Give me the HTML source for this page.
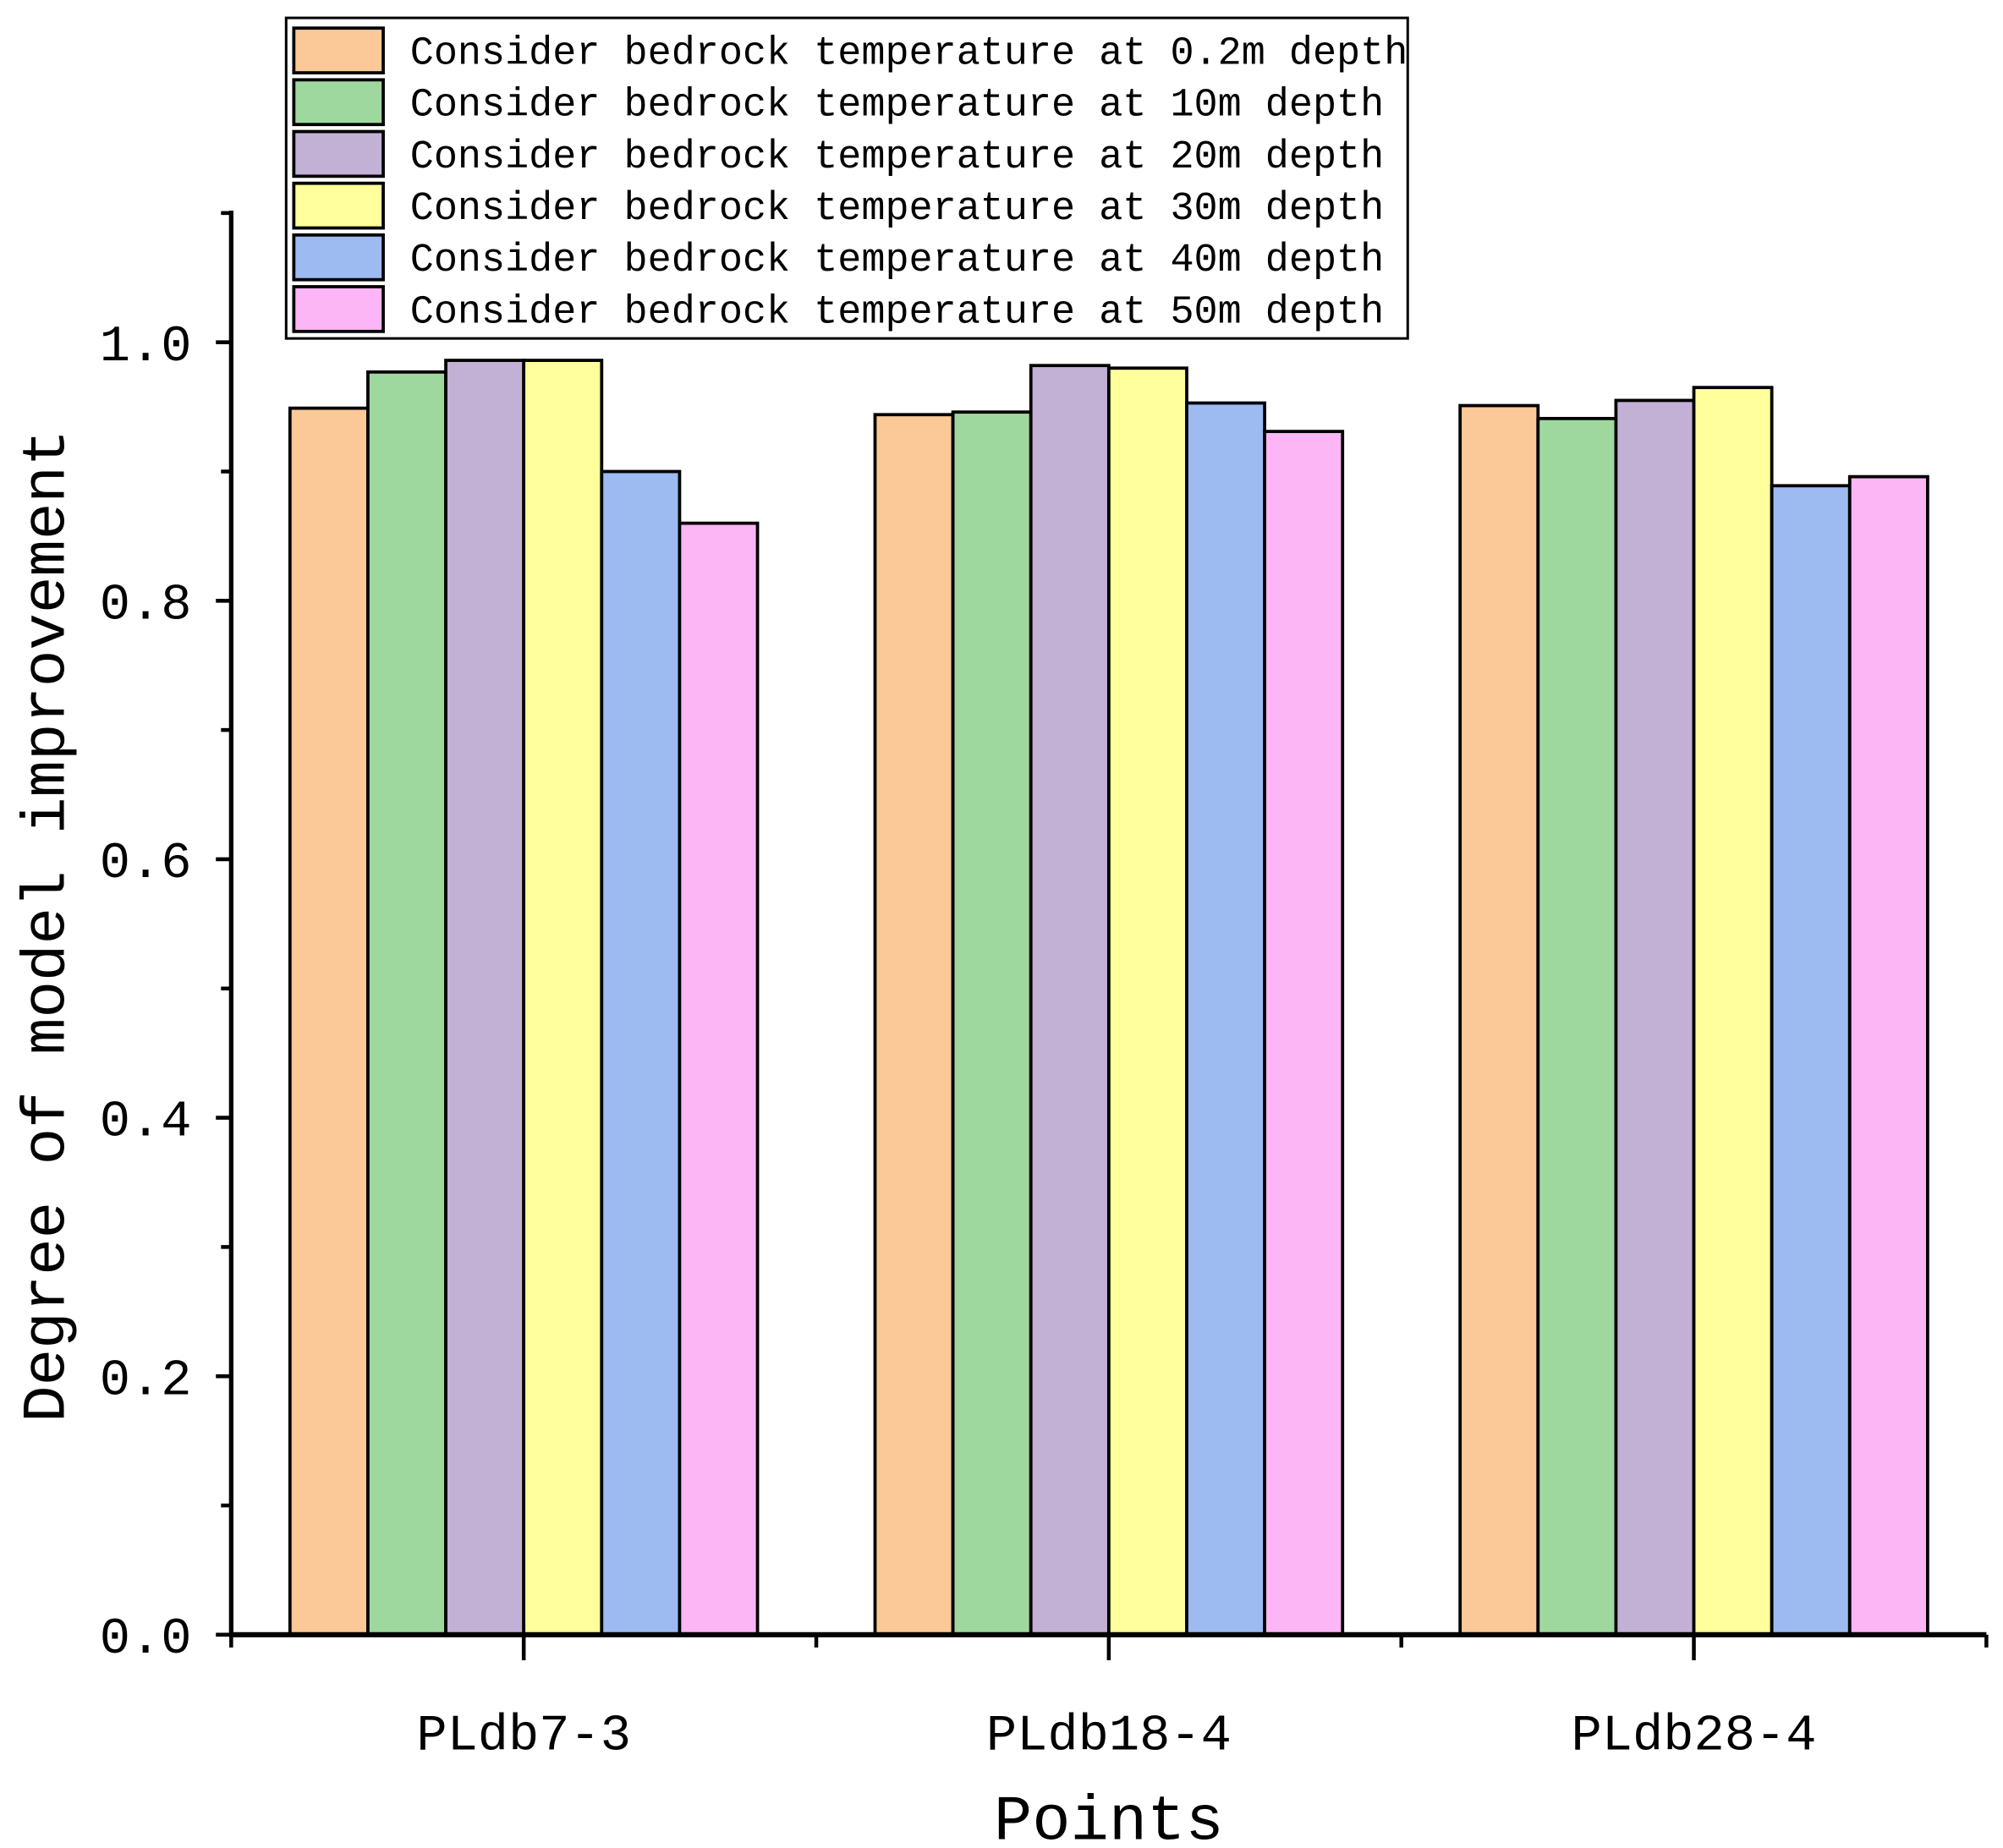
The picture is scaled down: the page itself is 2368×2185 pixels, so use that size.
<!DOCTYPE html>
<html><head><meta charset="utf-8"><style>
html,body{margin:0;padding:0;background:#fff}
svg{display:block}
text{font-family:"Liberation Mono","Noto Serif CJK SC",monospace;fill:#000}
</style></head><body>
<svg id="chart" width="2368" height="2185" viewBox="0 0 1568 1447" preserveAspectRatio="none" xmlns="http://www.w3.org/2000/svg">
<g id="bars"></g>
<g id="axes"></g>
<g id="legend"></g>
<text transform="translate(50,725) rotate(-90)" text-anchor="middle" font-size="48">Degree of model improvement</text>
<text x="868" y="1440" text-anchor="middle" font-size="50">Points</text>
</svg>
<script>
const categories = ["PLdb7-3","PLdb18-4","PLdb28-4"];
const seriesNames = ["Consider bedrock temperature at 0.2m depth","Consider bedrock temperature at 10m depth","Consider bedrock temperature at 20m depth","Consider bedrock temperature at 30m depth","Consider bedrock temperature at 40m depth","Consider bedrock temperature at 50m depth"];
const s02 = [0.949,0.944,0.951];
const s10 = [0.977,0.946,0.941];
const s20 = [0.986,0.982,0.955];
const s30 = [0.986,0.980,0.965];
const s40 = [0.900,0.953,0.889];
const s50 = [0.860,0.931,0.896];
const yTicks = [0.0,0.2,0.4,0.6,0.8,1.0];
const colors = ["#FBC897","#9FD89F","#C2B1D5","#FFFF9B","#9DBAF1","#FCB5F5"];
const series = [s02,s10,s20,s30,s40,s50];

const NS="http://www.w3.org/2000/svg";
const X0=181,X1=1555,Y0=1280,Y1=268;
const yS=v=>Y0-(v/1.0)*(Y0-Y1);
const catW=(X1-X0)/categories.length;
const xC=i=>X0+catW*(i+0.5);
const barW=61;
function mk(tag,attrs,parent){const e=document.createElementNS(NS,tag);for(const k in attrs)e.setAttribute(k,attrs[k]);parent.appendChild(e);return e;}
const bars=document.getElementById('bars'),axes=document.getElementById('axes'),legend=document.getElementById('legend');
series.forEach((s,si)=>{s.forEach((v,ci)=>{
  const x=xC(ci)+(si-3)*barW;
  const r=mk('rect',{x:x,y:yS(v),width:barW,height:Y0-yS(v),fill:colors[si],stroke:'#000','stroke-width':2.5},bars);
  
  
});});
let l=mk('line',{x1:X0,y1:165,x2:X0,y2:Y0+1.5,stroke:'#000','stroke-width':3.5},axes);

l=mk('line',{x1:X0-1.5,y1:Y0,x2:X1,y2:Y0,stroke:'#000','stroke-width':4},axes);

for(let k=0;k<=11;k++){const v=k*0.1;const y=yS(v);
  mk('line',{x1:k%2==0?X0-12:X0-8,y1:y,x2:X0,y2:y,stroke:'#000','stroke-width':3},axes);}
yTicks.forEach(v=>{const t=mk('text',{x:150,y:yS(v)+14,'text-anchor':'end','font-size':40},axes);t.textContent=v.toFixed(1);
  });
for(let i=0;i<=categories.length;i++){const x=X0+catW*i;mk('line',{x1:x,y1:Y0,x2:x,y2:Y0+10,stroke:'#000','stroke-width':3},axes);}
categories.forEach((c,i)=>{mk('line',{x1:xC(i),y1:Y0,x2:xC(i),y2:Y0+20,stroke:'#000','stroke-width':3},axes);
  const t=mk('text',{x:xC(i),y:1370,'text-anchor':'middle','font-size':40},axes);t.textContent=c;
  });
mk('rect',{x:224,y:14,width:878,height:251,fill:'#fff',stroke:'#000','stroke-width':2},legend);
seriesNames.forEach((n,i)=>{const y=22+i*40.5;
  const sw=mk('rect',{x:230,y:y,width:70,height:35,fill:colors[i],stroke:'#000','stroke-width':2.5},legend);
  
  const t=mk('text',{x:321,y:y+28,'font-size':31},legend);t.textContent=n;
  });
</script>
</body></html>
